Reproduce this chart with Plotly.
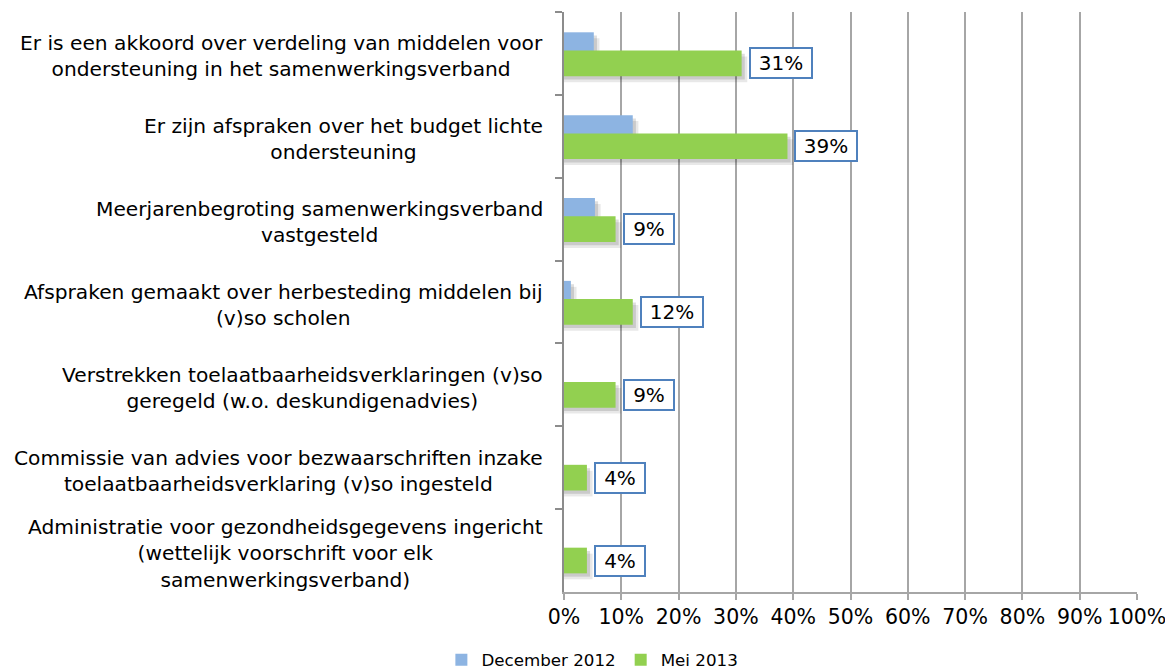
import plotly.graph_objects as go

categories = [
    "Er is een akkoord over verdeling van middelen voor<br>ondersteuning in het samenwerkingsverband",
    "Er zijn afspraken over het budget lichte<br>ondersteuning",
    "Meerjarenbegroting samenwerkingsverband<br>vastgesteld",
    "Afspraken gemaakt over herbesteding middelen bij<br>(v)so scholen",
    "Verstrekken toelaatbaarheidsverklaringen (v)so<br>geregeld (w.o. deskundigenadvies)",
    "Commissie van advies voor bezwaarschriften inzake<br>toelaatbaarheidsverklaring (v)so ingesteld",
    "Administratie voor gezondheidsgegevens ingericht<br>(wettelijk voorschrift voor elk<br>samenwerkingsverband)",
]
dec_2012 = [5.2, 12.0, 5.4, 1.2, 0, 0, 0]
mei_2013 = [31, 39, 9, 12, 9, 4, 4]
series_names = ["December 2012", "Mei 2013"]
x_ticks = [0, 10, 20, 30, 40, 50, 60, 70, 80, 90, 100]

BLUE = "#8DB4E2"
GREEN = "#92D050"
FONT = "DejaVu Sans"

BAR_W = 0.31
BLUE_OFF = -0.255
GREEN_OFF = -0.035
SH_X = 0.55   # shadow x-shift in axis units (~3px)
SH_Y = 0.04   # shadow y-shift in category units (~3px)

fig = go.Figure()


def add_shadow(vals, off):
    for k, a in ((1.0, 0.13), (1.8, 0.09)):
        fig.add_trace(go.Bar(
            y=categories, x=[v + SH_X * k if v > 0 else 0 for v in vals],
            orientation="h", width=BAR_W, offset=off + SH_Y * k,
            marker=dict(color=f"rgba(0,0,0,{a})", line=dict(width=0)),
            showlegend=False, hoverinfo="skip"))


add_shadow(dec_2012, BLUE_OFF)
fig.add_trace(go.Bar(
    y=categories, x=dec_2012, orientation="h", name=series_names[0],
    width=BAR_W, offset=BLUE_OFF,
    marker=dict(color=BLUE, line=dict(width=0))))
add_shadow(mei_2013, GREEN_OFF)
fig.add_trace(go.Bar(
    y=categories, x=mei_2013, orientation="h", name=series_names[1],
    width=BAR_W, offset=GREEN_OFF,
    marker=dict(color=GREEN, line=dict(width=0))))

# data labels in boxes
for cat, v in zip(categories, mei_2013):
    txt = f"{v:.0f}%"
    fig.add_annotation(
        x=v, y=cat, xref="x", yref="y", text=txt, showarrow=False,
        xanchor="left", yanchor="middle", xshift=7, yshift=-10,
        font=dict(family=FONT, size=20, color="#000000"),
        bgcolor="#FFFFFF", bordercolor="#4F81BD", borderwidth=2, borderpad=2,
        width=12 * len(txt) + 20)

# category labels (centered multi-line)
for cat in categories:
    fig.add_annotation(
        x=0, y=cat, xref="paper", yref="y", text=cat, showarrow=False,
        xanchor="right", yanchor="middle", align="center", xshift=-19, yshift=-3,
        font=dict(family=FONT, size=20.2, color="#000000"))

fig.update_layout(
    barmode="overlay",
    width=1165, height=663,
    margin=dict(l=556, r=36, t=4, b=79, autoexpand=False),
    paper_bgcolor="white", plot_bgcolor="white",
    font=dict(family=FONT, size=20, color="#000000"),
    legend=dict(orientation="h", x=-0.214, y=-0.117, xanchor="left", yanchor="middle",
                font=dict(family=FONT, size=16.7, color="#000000"),
                traceorder="normal", itemwidth=30),
    showlegend=True,
)
fig.update_xaxes(
    range=[0, 100], tickvals=x_ticks, ticktext=[f"{t}%" for t in x_ticks],
    showgrid=True, gridcolor="#A6A6A6", gridwidth=1.5,
    showline=True, linecolor="#A6A6A6", linewidth=1.5,
    ticks="outside", ticklen=6, tickcolor="#A6A6A6", tickwidth=1.5,
    zeroline=False, tickfont=dict(family=FONT, size=20.5, color="#000000"),
)
fig.update_yaxes(
    type="category", categoryorder="array", categoryarray=categories,
    range=[6.5, -0.5], showticklabels=False,
    showline=True, linecolor="#8C8C8C", linewidth=1.5,
    ticks="outside", tickson="boundaries", ticklen=7, tickcolor="#8C8C8C", tickwidth=1.5,
    showgrid=False, zeroline=False,
)

fig.write_html("out.html")
